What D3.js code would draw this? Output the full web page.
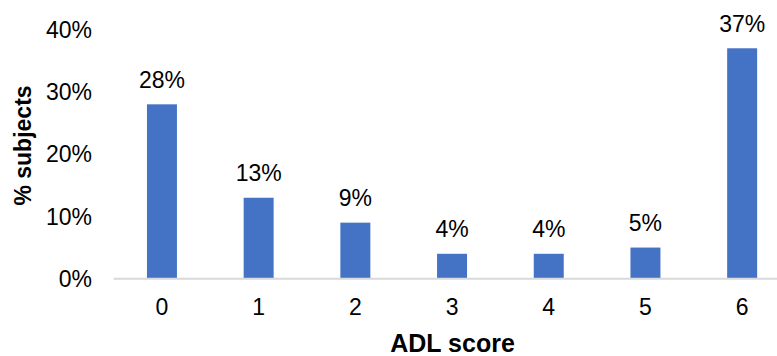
<!DOCTYPE html>
<html>
<head>
<meta charset="utf-8">
<script src="https://cdn.jsdelivr.net/npm/d3@7"></script>
<style>
  html, body { margin: 0; padding: 0; background: #fff; }
  svg { display: block; font-family: "Liberation Sans", Arial, sans-serif; }
</style>
</head>
<body>
<svg id="chart" width="777" height="356"></svg>
<script>
// ADL score distribution (% of subjects)
const categories = ["0", "1", "2", "3", "4", "5", "6"];
const percentages = [28, 13, 9, 4, 4, 5, 37];
const yTicks = [0, 10, 20, 30, 40];

(function () {
  const svg = d3.select("#chart");
  const plotLeft = 113.6, step = 96.7, plotBottom = 278.7, plotTop = 29.6;

  const x = d3.scaleBand()
    .domain(categories)
    .range([plotLeft, plotLeft + step * categories.length])
    .paddingInner(0.69)
    .paddingOuter(0.345);

  const y = d3.scaleLinear().domain([0, 40]).range([plotBottom, plotTop]);

  // y tick labels
  svg.append("g")
    .selectAll("text")
    .data(yTicks)
    .join("text")
    .attr("x", 92)
    .attr("y", d => y(d))
    .attr("dy", "0.36em")
    .attr("text-anchor", "end")
    .attr("font-size", 23)
    .attr("fill", "#000")
    .text(d => d + "%");

  // bars
  svg.append("g")
    .selectAll("rect")
    .data(percentages)
    .join("rect")
    .attr("x", (d, i) => x(categories[i]))
    .attr("width", x.bandwidth())
    .attr("y", d => y(d))
    .attr("height", d => y(0) - y(d))
    .attr("fill", "#4472C4");

  // value labels
  svg.append("g")
    .selectAll("text")
    .data(percentages)
    .join("text")
    .attr("x", (d, i) => x(categories[i]) + x.bandwidth() / 2)
    .attr("y", d => y(d) - 16.5)
    .attr("text-anchor", "middle")
    .attr("font-size", 23)
    .attr("fill", "#000")
    .text(d => d + "%");

  // baseline
  svg.append("line")
    .attr("x1", plotLeft)
    .attr("x2", plotLeft + step * categories.length)
    .attr("y1", y(0))
    .attr("y2", y(0))
    .attr("stroke", "#d9d9d9")
    .attr("stroke-width", 2);

  // x tick labels
  svg.append("g")
    .selectAll("text")
    .data(categories)
    .join("text")
    .attr("x", d => x(d) + x.bandwidth() / 2)
    .attr("y", 314.5)
    .attr("text-anchor", "middle")
    .attr("font-size", 23)
    .attr("fill", "#000")
    .text(d => d);

  // axis titles
  svg.append("text")
    .attr("x", 452.5)
    .attr("y", 352)
    .attr("text-anchor", "middle")
    .attr("font-size", 25)
    .attr("font-weight", "bold")
    .text("ADL score");

  svg.append("text")
    .attr("transform", "translate(31,145.5) rotate(-90)")
    .attr("text-anchor", "middle")
    .attr("font-size", 23)
    .attr("font-weight", "bold")
    .text("% subjects");
})();
</script>
</body>
</html>
